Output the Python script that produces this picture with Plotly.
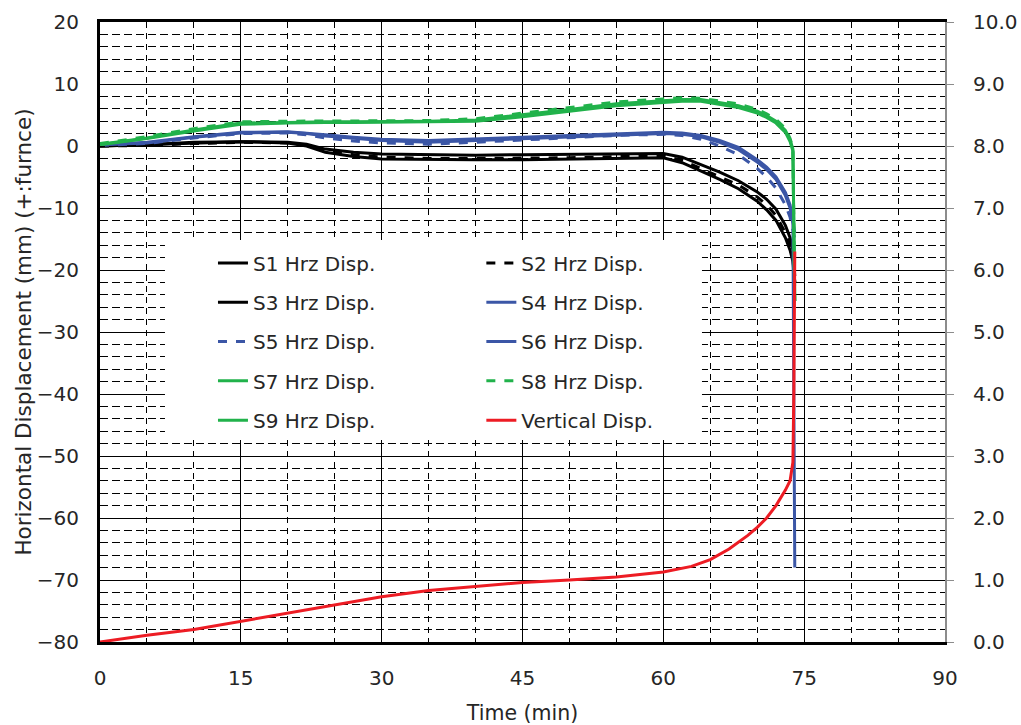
import plotly.graph_objects as go

# ---- data ----
t_hrz = [0, 5, 10, 15, 20, 22, 24, 27, 30, 35, 40, 45, 50, 55, 60, 62, 64, 66, 68, 70, 71, 72, 73, 73.5, 73.8, 74.0]

s1 = [0.0, 0.2, 0.6, 0.7, 0.6, 0.3, -0.5, -1.0, -1.3, -1.4, -1.5, -1.4, -1.3, -1.2, -1.2, -1.8, -3.0, -4.2, -5.6, -7.4, -8.6, -10.2, -12.8, -14.8, -16.8, -21.0]
s2 = [0.0, 0.1, 0.4, 0.6, 0.5, 0.1, -0.8, -1.4, -1.8, -2.0, -2.0, -2.0, -1.9, -1.7, -1.6, -2.3, -3.6, -4.9, -6.3, -8.2, -9.5, -11.2, -14.0, -16.0, -18.0, -22.0]
s3 = [0.0, 0.2, 0.5, 0.7, 0.5, 0.0, -1.0, -1.7, -2.1, -2.2, -2.2, -2.2, -2.1, -2.0, -1.9, -2.7, -4.0, -5.4, -6.9, -8.9, -10.3, -12.0, -14.8, -16.8, -18.6, -22.0]

s4 = [0.2, 0.5, 1.4, 2.1, 2.2, 2.0, 1.6, 1.2, 0.9, 0.6, 0.9, 1.2, 1.5, 1.8, 2.0, 1.9, 1.5, 0.6, -0.6, -2.6, -3.8, -5.4, -8.0, -10.0, -12.5, -68.0]
s5 = [0.1, 0.4, 1.3, 2.0, 2.1, 1.8, 1.3, 0.8, 0.5, 0.3, 0.6, 1.0, 1.4, 1.7, 1.9, 1.7, 1.1, 0.0, -1.4, -3.6, -5.0, -6.8, -9.5, -11.5, -13.5, -15.0]
s6 = [0.2, 0.6, 1.5, 2.2, 2.3, 2.1, 1.8, 1.4, 1.1, 0.9, 1.1, 1.4, 1.7, 2.0, 2.2, 2.1, 1.7, 0.9, -0.2, -2.2, -3.4, -5.0, -7.5, -9.5, -12.0, -14.0]

s7 = [0.3, 1.3, 2.6, 3.7, 3.8, 3.9, 3.9, 3.9, 3.9, 4.0, 4.2, 5.0, 5.9, 6.8, 7.3, 7.5, 7.5, 7.0, 6.5, 5.6, 4.9, 4.0, 2.5, 1.0, -0.5, -25.0]
s8 = [0.4, 1.5, 2.8, 3.9, 4.0, 4.0, 4.0, 4.0, 4.0, 4.1, 4.4, 5.3, 6.2, 7.1, 7.6, 7.8, 7.7, 7.2, 6.8, 5.9, 5.2, 4.3, 2.8, 1.2, -0.3, -25.0]
s9 = [0.2, 1.2, 2.4, 3.5, 3.7, 3.8, 3.8, 3.8, 3.8, 3.9, 4.0, 4.7, 5.6, 6.5, 7.0, 7.2, 7.2, 6.7, 6.2, 5.3, 4.6, 3.7, 2.2, 0.7, -0.8, -25.0]

t_vert = [0, 5, 10, 15, 20, 25, 30, 35, 40, 45, 50, 55, 60, 63, 65, 67, 69, 70, 71, 72, 73, 73.5, 73.8, 73.9, 74.0]
v_disp = [0.0, 0.11, 0.2, 0.33, 0.47, 0.6, 0.73, 0.83, 0.9, 0.96, 1.0, 1.05, 1.13, 1.22, 1.33, 1.5, 1.72, 1.85, 2.0, 2.2, 2.45, 2.6, 2.9, 4.0, 6.3]

x_ticks = [0, 15, 30, 45, 60, 75, 90]
y_ticks = [-80, -70, -60, -50, -40, -30, -20, -10, 0, 10, 20]
y2_ticks = [0, 1, 2, 3, 4, 5, 6, 7, 8, 9, 10]

BLACK = "#000000"
BLUE = "#3B56A6"
GREEN = "#21B24B"
RED = "#ED1C24"
FONT = "DejaVu Sans"
TXT = "#262626"
FS = 20
W = 3

# (name, values, colour, dash, legend column)
series = [
    ("S1 Hrz Disp.", s1, BLACK, "solid", "legend"),
    ("S2 Hrz Disp.", s2, BLACK, "dash", "legend2"),
    ("S3 Hrz Disp.", s3, BLACK, "solid", "legend"),
    ("S4 Hrz Disp.", s4, BLUE, "solid", "legend2"),
    ("S5 Hrz Disp.", s5, BLUE, "dash", "legend"),
    ("S6 Hrz Disp.", s6, BLUE, "solid", "legend2"),
    ("S7 Hrz Disp.", s7, GREEN, "solid", "legend"),
    ("S8 Hrz Disp.", s8, GREEN, "dash", "legend2"),
    ("S9 Hrz Disp.", s9, GREEN, "solid", "legend"),
]

fig = go.Figure()
for i, (name, vals, col, dash, leg) in enumerate(series):
    fig.add_trace(go.Scatter(x=t_hrz, y=vals, mode="lines", name=name,
                             legend=leg, legendgroup=f"g{i}",
                             line=dict(color=col, width=W, dash=dash)))
fig.add_trace(go.Scatter(x=t_vert, y=v_disp, mode="lines", name="Vertical Disp.",
                         legend="legend2", legendgroup="g9",
                         line=dict(color=RED, width=W), yaxis="y2"))

# white legend box (covers the grid behind the legend)
fig.add_shape(type="rect", xref="paper", yref="paper",
              x0=0.0769, x1=0.7124, y0=0.3258, y1=0.6484,
              fillcolor="white", line=dict(width=0), layer="above")

leg_common = dict(orientation="v", xanchor="left", yanchor="top",
                  bgcolor="rgba(0,0,0,0)", font=dict(family=FONT, size=FS, color=TXT),
                  tracegroupgap=10.3)

fig.update_layout(
    width=1021, height=725,
    margin=dict(l=100, r=76, t=22, b=83),
    paper_bgcolor="white", plot_bgcolor="white",
    font=dict(family=FONT, size=FS, color=TXT),
    showlegend=True,
    legend=dict(x=0.1337, y=0.6428, **leg_common),
    legend2=dict(x=0.4513, y=0.6428, **leg_common),
    xaxis=dict(
        range=[0, 90], tickvals=x_ticks, showgrid=True, gridcolor="black", gridwidth=1,
        showline=True, linecolor="black", linewidth=3, mirror=True,
        ticks="inside", ticklen=5, tickcolor="black", zeroline=False,
        ticklabelstandoff=16, automargin=False,
        minor=dict(dtick=5, showgrid=True, gridcolor="black", griddash="6px,5px", gridwidth=1,
                   ticks="inside", ticklen=4, tickcolor="black"),
        title=dict(text="Time (min)", standoff=17, font=dict(size=20.5)),
    ),
    yaxis=dict(
        range=[-80, 20], tickvals=y_ticks, showgrid=True, gridcolor="black", gridwidth=1,
        showline=True, linecolor="black", linewidth=3,
        ticks="inside", ticklen=5, tickcolor="black", zeroline=False,
        ticklabelstandoff=14, automargin=False,
        minor=dict(dtick=2, showgrid=True, gridcolor="black", griddash="8px,4px", gridwidth=1,
                   ticks="inside", ticklen=4, tickcolor="black"),
        title=dict(text="Horizontal Displacement (mm) (+:furnce)", standoff=0, font=dict(size=21.5)),
    ),
    yaxis2=dict(
        range=[0, 10], tickvals=y2_ticks, tickformat=".1f", overlaying="y", side="right",
        showgrid=False, zeroline=False, showline=True, linecolor="#8c8c8c", linewidth=2,
        ticks="outside", ticklen=7, tickcolor="#8c8c8c", ticklabelstandoff=15,
        automargin=False,
    ),
)

fig.write_html("out.html")
